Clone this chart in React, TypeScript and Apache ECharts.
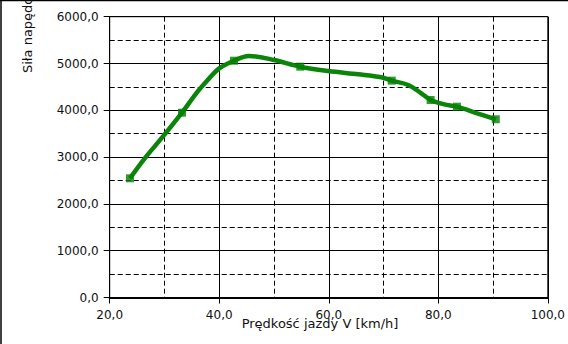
import React, { useEffect, useRef } from "react";
import * as echarts from "echarts";

const curveX = [23.7, 26.4, 29.7, 33.2, 35.8, 37.9, 40.0, 42.7, 45.4, 50.0, 54.8, 59.9, 65.4, 69.6, 71.5, 74.5, 76.9, 78.6, 81.1, 83.4, 87.1, 90.5];
const curveY = [2547, 2974, 3436, 3949, 4363, 4647, 4897, 5060, 5160, 5075, 4932, 4840, 4769, 4705, 4633, 4541, 4363, 4220, 4128, 4077, 3936, 3808];
const markerX = [23.7, 33.2, 42.7, 54.8, 71.5, 78.6, 83.4, 90.5];
const markerY = [2547, 3949, 5060, 4932, 4633, 4220, 4077, 3808];
const xTitle = "Prędkość jazdy V [km/h]";
const yTitle = "Siła napędowa F [N]";

const fmt = (v: number) => v.toFixed(1).replace(".", ",");
const FONT = "DejaVu Sans";

export default function App() {
  const ref = useRef<HTMLDivElement>(null);
  useEffect(() => {
    if (!ref.current) return;
    const chart = echarts.init(ref.current, null, { renderer: "svg" });
    const gridLine = { lineStyle: { color: "#000", width: 1, type: "solid" as const } };
    const minorLine = { show: true, lineStyle: { color: "#000", width: 1, type: [5, 3] as any } };
    chart.setOption({
      animation: false,
      backgroundColor: "#fff",
      grid: { left: 109.7, right: 18, top: 16.7, bottom: 46.5, show: true, borderColor: "#000", borderWidth: 1, backgroundColor: "transparent" },
      xAxis: {
        type: "value", min: 20, max: 100, interval: 20,
        axisLine: { show: true, onZero: false, lineStyle: { color: "#000", width: 2 } },
        axisTick: { show: true, length: 6, lineStyle: { color: "#000" } },
        axisLabel: { formatter: fmt, margin: 11, color: "#111", fontFamily: FONT, fontSize: 12 },
        splitLine: { show: true, ...gridLine },
        minorTick: { show: false, splitNumber: 2 },
        minorSplitLine: minorLine,
      },
      yAxis: {
        type: "value", min: 0, max: 6000, interval: 1000,
        axisLine: { show: true, lineStyle: { color: "#000", width: 1 } },
        axisTick: { show: true, length: 6, lineStyle: { color: "#000" } },
        axisLabel: { formatter: fmt, margin: 11, color: "#111", fontFamily: FONT, fontSize: 12 },
        splitLine: { show: true, ...gridLine },
        minorTick: { show: false, splitNumber: 2 },
        minorSplitLine: minorLine,
      },
      series: [
        {
          type: "line",
          data: curveX.map((x, i) => [x, curveY[i]]),
          smooth: 0.35,
          showSymbol: false,
          symbol: "none",
          lineStyle: { color: "#0a850a", width: 4.5 },
          z: 3,
        },
        {
          type: "scatter",
          data: markerX.map((x, i) => [x, markerY[i]]),
          symbol: "rect",
          symbolSize: 8,
          itemStyle: { color: "#008000" },
          z: 4,
        },
      ],
      graphic: [
        { type: "line", shape: { x1: 0, y1: 0.5, x2: 568, y2: 0.5 }, style: { stroke: "#000", lineWidth: 1.5 } },
        { type: "line", shape: { x1: 1, y1: 0, x2: 1, y2: 344 }, style: { stroke: "#000", lineWidth: 1.5 } },
        {
          type: "text", x: 320, y: 323,
          style: { text: xTitle, fontFamily: FONT, fontSize: 13, fill: "#111", textAlign: "center", textVerticalAlign: "middle" },
        },
        {
          type: "text", x: 27, y: 73, rotation: Math.PI / 2,
          style: { text: yTitle, fontFamily: FONT, fontSize: 13, fill: "#111", textAlign: "left", textVerticalAlign: "middle" },
        },
      ],
    });
    return () => chart.dispose();
  }, []);
  return <div ref={ref} style={{ position: "absolute", left: 0, top: 0, width: 568, height: 344 }} />;
}
